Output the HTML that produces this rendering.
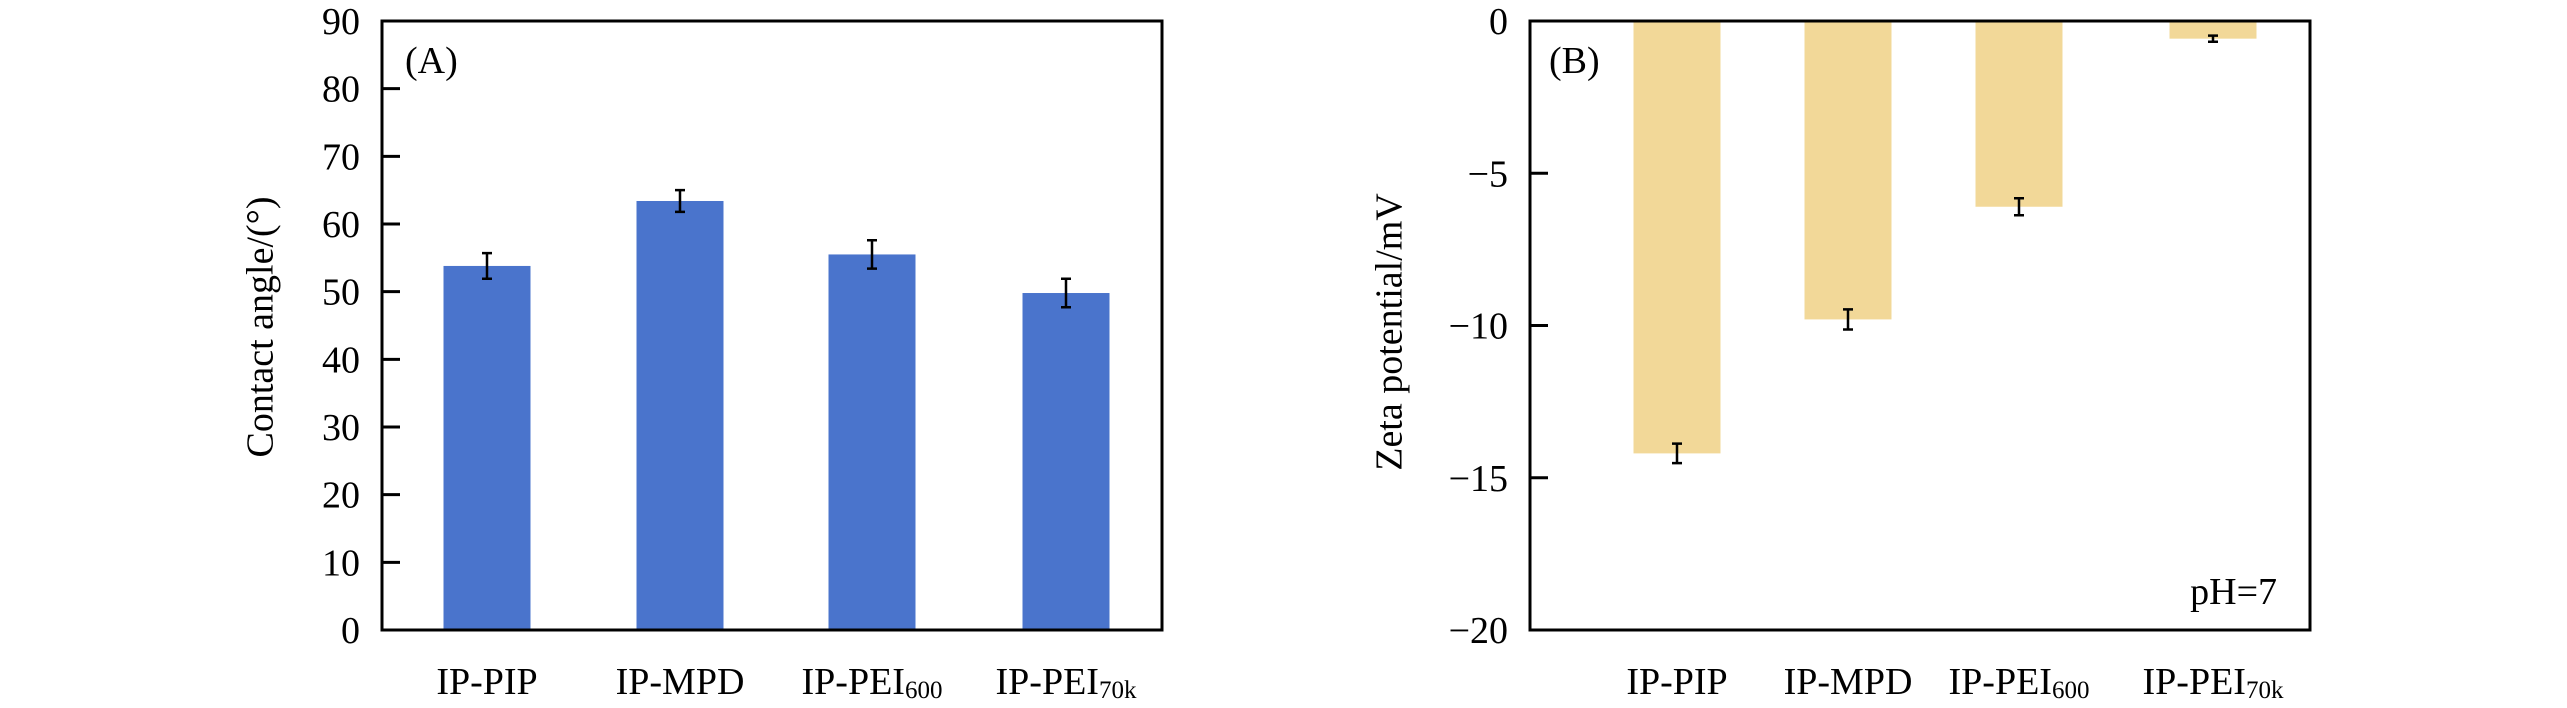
<!DOCTYPE html>
<html><head><meta charset="utf-8"><style>
html,body{margin:0;padding:0;background:#fff;}
svg{display:block;font-family:"Liberation Serif",serif;}
</style></head><body>
<svg id="fig" width="2567" height="708" viewBox="0 0 2567 708">
<g id="pa"></g>
<g id="pb"></g>
</svg>
<script>
const categories = ["IP-PIP","IP-MPD","IP-PEI","IP-PEI"];
const subs = ["","","600","70k"];
const angleValues = [53.8, 63.4, 55.5, 49.8];
const angleErrors = [1.9, 1.6, 2.1, 2.1];
const angleTicks = [0,10,20,30,40,50,60,70,80,90];
const zetaValues = [-14.2, -9.8, -6.1, -0.58];
const zetaErrors = [0.32, 0.33, 0.28, 0.1];
const zetaTicks = [0,-5,-10,-15,-20];
const tickLabelsZeta = ["0","\u22125","\u221210","\u221215","\u221220"];

const NS="http://www.w3.org/2000/svg";
function mk(parent, tag, attrs, text){
  const e=document.createElementNS(NS,tag);
  for(const k in attrs) e.setAttribute(k,attrs[k]);
  if(text!==undefined) e.textContent=text;
  parent.appendChild(e); return e;
}
function panel(g, cfg){
  const {L,R,T,B,ymin,ymax,vals,errs,ticks,tlabels,color,bars,title,tcx,tcy,letter,lx,ly}=cfg;
  const y=v=>B-(v-ymin)/(ymax-ymin)*(B-T);
  const bw=87;
  vals.forEach((v,i)=>{
    const cx=bars[i];
    const y0=y(0), y1=y(v);
    const r=mk(g,'rect',{x:cx-bw/2,y:Math.min(y0,y1),width:bw,height:Math.abs(y1-y0),fill:color});
    
    
    const e=errs[i], ya=y(v+e), yb=y(v-e);
    const eb=mk(g,'path',{d:`M${cx},${ya}V${yb}M${cx-5},${ya}H${cx+5}M${cx-5},${yb}H${cx+5}`,stroke:'#000','stroke-width':2.5,fill:'none'});
    
    
    const lab=mk(g,'text',{x:cx,y:694,'text-anchor':'middle','font-size':38});
    
    
    mk(lab,'tspan',{},categories[i]);
    if(subs[i]){ mk(lab,'tspan',{'font-size':25,dy:4},subs[i]); }
  });
  const fr=mk(g,'rect',{x:L,y:T,width:R-L,height:B-T,fill:'none',stroke:'#000','stroke-width':3});
  
  
  ticks.forEach((t,i)=>{
    const yy=y(t);
    const tk=mk(g,'line',{x1:L,x2:L+18,y1:yy,y2:yy,stroke:'#000','stroke-width':3});
    
    
    const tl=mk(g,'text',{x:L-22,y:yy+13,'text-anchor':'end','font-size':38},tlabels[i]);
    
    
  });
  const tt=mk(g,'text',{x:tcx,y:tcy,'text-anchor':'middle','font-size':38,transform:`rotate(-90 ${tcx} ${tcy})`,'dominant-baseline':'middle'},title);
  
  
  const pl=mk(g,'text',{x:lx,y:ly,'font-size':38},letter);
  
  
}
panel(document.getElementById('pa'),{L:382,R:1162,T:21,B:630,ymin:0,ymax:90,vals:angleValues,errs:angleErrors,
  ticks:angleTicks,tlabels:angleTicks.map(String),color:'#4a74cc',bars:[487,680,872,1066],
  title:'Contact angle/(°)',tcx:264,tcy:327,letter:'(A)',lx:405,ly:73});
panel(document.getElementById('pb'),{L:1530,R:2310,T:21,B:630,ymin:-20,ymax:0,vals:zetaValues,errs:zetaErrors,
  ticks:zetaTicks,tlabels:tickLabelsZeta,color:'#f2d898',bars:[1677,1848,2019,2213],
  title:'Zeta potential/mV',tcx:1393,tcy:332,letter:'(B)',lx:1549,ly:73});
const ph=mk(document.getElementById('pb'),'text',{x:2277,y:604,'text-anchor':'end','font-size':38},'pH=7');


</script>
</body></html>
